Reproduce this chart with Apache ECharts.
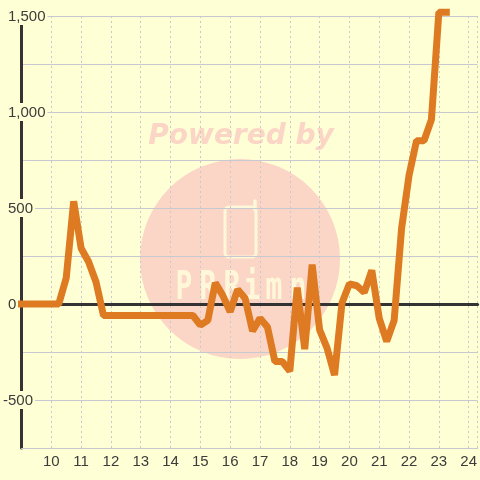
<!DOCTYPE html>
<html>
<head>
<meta charset="utf-8">
<style>
html, body { margin: 0; padding: 0; background: #ffffd5; }
#chart { width: 480px; height: 480px; }
</style>
<script src="https://cdn.jsdelivr.net/npm/echarts@6/dist/echarts.min.js"></script>
</head>
<body>
<div id="chart"></div>
<script>
var hours = [
  9, 9.25, 9.5, 9.75, 10, 10.25, 10.5, 10.75, 11, 11.25, 11.5, 11.75,
  12, 12.25, 12.5, 12.75, 13, 13.25, 13.5, 13.75, 14, 14.25, 14.5, 14.75,
  15, 15.25, 15.5, 15.75, 16, 16.25, 16.5, 16.75, 17, 17.25, 17.5, 17.75,
  18, 18.25, 18.5, 18.75, 19, 19.25, 19.5, 19.75, 20, 20.25, 20.5, 20.75,
  21, 21.25, 21.5, 21.75, 22, 22.25, 22.5, 22.75, 23, 23.25
];
var values = [
  0, 0, 0, 0, 0, 0, 135, 535, 290, 220, 115, -60,
  -60, -60, -60, -60, -60, -60, -60, -60, -60, -60, -60, -60,
  -110, -85, 110, 45, -40, 75, 30, -140, -75, -120, -300, -300,
  -350, 85, -235, 205, -135, -230, -370, 5, 105, 95, 60, 175,
  -75, -195, -85, 395, 670, 850, 850, 960, 1520, 1520
];

var bg = "#ffffd5";
var gridColor = "#c8c8d0";
var axisColor = "#333333";
var textColor = "#3c3c3c";
var mark = "#fbd5c6";
var logo = "#fff8d8";

function logoLetter(ch, x) {
  return { type: "text", z: -9, x: x, y: 289, scaleY: 1.4, style: {
    text: ch, fill: logo, font: "bold 28px 'DejaVu Sans Mono'",
    textAlign: "center", textVerticalAlign: "middle" } };
}

var chart = echarts.init(document.getElementById("chart"));
chart.setOption({
  backgroundColor: bg,
  animation: false,
  textStyle: { fontFamily: "Liberation Sans" },
  graphic: [
    { type: "circle", z: -10, shape: { cx: 240, cy: 259, r: 100 }, style: { fill: mark } },
    { type: "text", z: -10, x: 241, y: 137, style: {
      text: "Powered by", fill: mark, font: "italic bold 28px 'DejaVu Sans'",
      textAlign: "center", textVerticalAlign: "middle" } },
    { type: "rect", z: -9, shape: { x: 225, y: 207, width: 31, height: 50, r: 4 },
      style: { fill: "none", stroke: logo, lineWidth: 3 } },
    { type: "line", z: -9, shape: { x1: 255, y1: 201, x2: 255, y2: 210 },
      style: { stroke: logo, lineWidth: 3.5, lineCap: "round" } },
    logoLetter("P", 184),
    logoLetter("R", 208),
    logoLetter("R", 232),
    logoLetter("i", 252),
    logoLetter("m", 274),
    logoLetter("n", 298)
  ],
  grid: { left: 20.5, right: 0, top: 16, bottom: 32 },
  xAxis: [
    {
      type: "value", min: 9, max: 24.3, interval: 1,
      axisLine: { onZero: false, lineStyle: { color: gridColor, width: 1 } },
      axisTick: { show: false },
      axisLabel: {
        color: textColor, fontSize: 15, margin: 6, showMaxLabel: false, showMinLabel: false,
        formatter: function (v) { return v; }
      },
      splitLine: { show: true, lineStyle: { color: gridColor, width: 1, type: [2, 3] } }
    },
    {
      type: "value", min: 9, max: 24.3, interval: 1,
      axisLine: { onZero: true, lineStyle: { color: axisColor, width: 3 } },
      axisTick: { show: false },
      axisLabel: { show: false },
      splitLine: { show: false }
    }
  ],
  yAxis: {
    type: "value", min: -750, max: 1500, interval: 250,
    axisLine: { show: true, lineStyle: { color: axisColor, width: 3 } },
    axisTick: { show: false },
    splitLine: { show: true, lineStyle: { color: gridColor, width: 1 } },
    axisLabel: {
      color: textColor, fontSize: 15, align: "left", margin: 18.5, z: 3,
      backgroundColor: bg, lineHeight: 16, padding: [2, 2, 0, 0],
      formatter: function (v) {
        if (v % 500 !== 0) return "";
        var s = echarts.format.addCommas(v);
        return v < 0 ? s : "{pad|}" + s;
      },
      rich: { pad: { width: 5 } }
    }
  },
  series: [{
    type: "line",
    data: hours.map(function (h, i) { return [h, values[i]]; }),
    showSymbol: false,
    clip: false,
    lineStyle: { color: "#dd7a22", width: 7, cap: "square", join: "bevel" }
  }]
});
</script>
</body>
</html>
